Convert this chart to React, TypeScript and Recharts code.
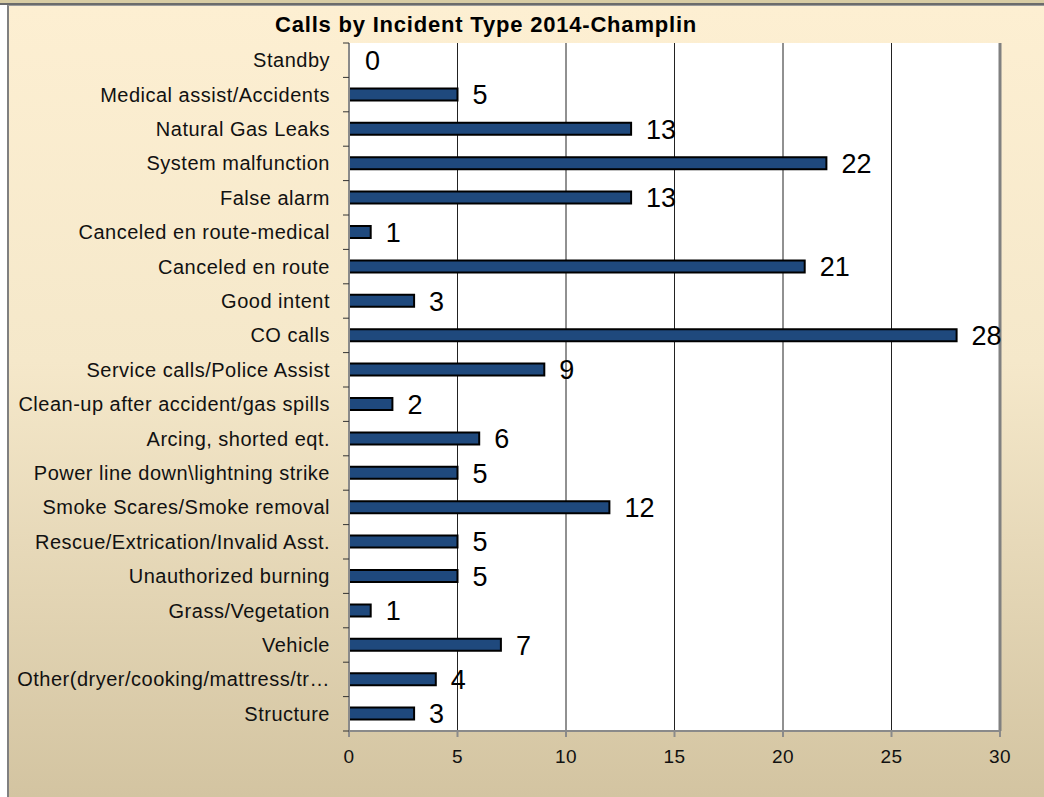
import { Bar, BarChart, CartesianGrid, Cell, LabelList, ReferenceLine, XAxis, YAxis } from "recharts";

const categories = [
  "Standby",
  "Medical assist/Accidents",
  "Natural Gas Leaks",
  "System malfunction",
  "False alarm",
  "Canceled en route-medical",
  "Canceled en route",
  "Good intent",
  "CO calls",
  "Service calls/Police Assist",
  "Clean-up after accident/gas spills",
  "Arcing, shorted eqt.",
  "Power line down\\lightning strike",
  "Smoke Scares/Smoke removal",
  "Rescue/Extrication/Invalid Asst.",
  "Unauthorized burning",
  "Grass/Vegetation",
  "Vehicle",
  "Other(dryer/cooking/mattress/tr\u2026",
  "Structure",
];

const calls = [0, 5, 13, 22, 13, 1, 21, 3, 28, 9, 2, 6, 5, 12, 5, 5, 1, 7, 4, 3];

const xTicks = [0, 5, 10, 15, 20, 25, 30];

const W = 1044;
const H = 797;
const TOP = 43;
const AXIS_X = 349;
const PLOT_H = 688;
const BAND = PLOT_H / categories.length;
const FONT = "'Liberation Sans', Arial, sans-serif";

const rows = categories.map((name, i) => ({ name, value: calls[i] }));

// Excel-style category ticks sit on band boundaries, not band centres.
function CategoryTick(props: any) {
  const { y, index, payload } = props;
  const top = y - BAND / 2;
  return (
    <g>
      <line x1={AXIS_X - 6} x2={AXIS_X} y1={top} y2={top} stroke="#333" strokeWidth={1} />
      {index === categories.length - 1 && (
        <line x1={AXIS_X - 6} x2={AXIS_X} y1={top + BAND} y2={top + BAND} stroke="#333" />
      )}
      <text
        x={AXIS_X - 19}
        y={y}
        dy="0.35em"
        textAnchor="end"
        fontSize={20}
        letterSpacing={0.5}
        fontFamily={FONT}
        fill="#111"
      >
        {payload.value}
      </text>
    </g>
  );
}

function ValueTick(props: any) {
  const { x, payload } = props;
  return (
    <text x={x} y={763} textAnchor="middle" fontSize={19} letterSpacing={0.4} fontFamily={FONT} fill="#111">
      {payload.value}
    </text>
  );
}

function BarValue(props: any) {
  const { x, y, width, height, value } = props;
  return (
    <text
      x={Number(x) + Number(width) + 15}
      y={Number(y) + Number(height) / 2}
      dy="0.36em"
      fontSize={27}
      fontFamily={FONT}
      fill="#000"
    >
      {value}
    </text>
  );
}

export default function App() {
  return (
    <div style={{ position: "absolute", top: 0, left: 0, width: W, height: H, background: "#fff", overflow: "hidden" }}>
      <div
        style={{
          position: "absolute",
          top: 0,
          left: 0,
          width: W,
          height: 3,
          background: "#d8cca4",
          borderBottom: "2px solid #6b6b6b",
        }}
      />
      <div
        style={{
          position: "absolute",
          top: 5,
          left: 7,
          width: W - 7,
          height: H - 5,
          boxSizing: "border-box",
          borderLeft: "2px solid #808080",
          borderTop: "1px solid #9a9a9a",
          background: "linear-gradient(#fdefd2 0%, #f5e8ca 45%, #d3c4a1 100%)",
        }}
      />
      <div
        style={{
          position: "absolute",
          top: 14,
          left: 275,
          fontFamily: FONT,
          fontWeight: 700,
          fontSize: 22,
          lineHeight: "22px",
          letterSpacing: 0.8,
          whiteSpace: "nowrap",
          color: "#000",
        }}
      >
        Calls by Incident Type 2014-Champlin
      </div>
      <div style={{ position: "absolute", top: 0, left: 0 }}>
        <BarChart
          width={W}
          height={H}
          data={rows}
          layout="vertical"
          margin={{ top: TOP, right: W - 1000, bottom: 0, left: 0 }}
          barCategoryGap={0}
        >
          <CartesianGrid horizontal={false} stroke="#222" fill="#fff" />
          <XAxis
            type="number"
            domain={[0, 30]}
            ticks={xTicks}
            height={H - TOP - PLOT_H}
            axisLine={{ stroke: "#8a8a8a", strokeWidth: 2 }}
            tickLine={{ stroke: "#8a8a8a", strokeWidth: 2 }}
            tickSize={6}
            tick={<ValueTick />}
          />
          <XAxis
            xAxisId="top"
            orientation="top"
            type="number"
            domain={[0, 30]}
            height={0}
            tick={false}
            tickLine={false}
            axisLine={{ stroke: "#808080", strokeWidth: 2 }}
          />
          <YAxis
            type="category"
            dataKey="name"
            width={AXIS_X}
            interval={0}
            tickLine={false}
            axisLine={{ stroke: "#8a8a8a", strokeWidth: 2 }}
            tick={<CategoryTick />}
          />
          <ReferenceLine x={30} stroke="#808080" strokeWidth={3} />
          {/* minPointSize keeps the zero row alive so its "0" label is drawn; its cell is invisible */}
          <Bar
            dataKey="value"
            barSize={12}
            minPointSize={1}
            fill="#1f497d"
            stroke="#000"
            strokeWidth={2}
            isAnimationActive={false}
          >
            {rows.map((r) => (
              <Cell
                key={r.name}
                fill={r.value === 0 ? "none" : "#1f497d"}
                stroke={r.value === 0 ? "none" : "#000"}
              />
            ))}
            <LabelList dataKey="value" content={<BarValue />} />
          </Bar>
        </BarChart>
      </div>
    </div>
  );
}
